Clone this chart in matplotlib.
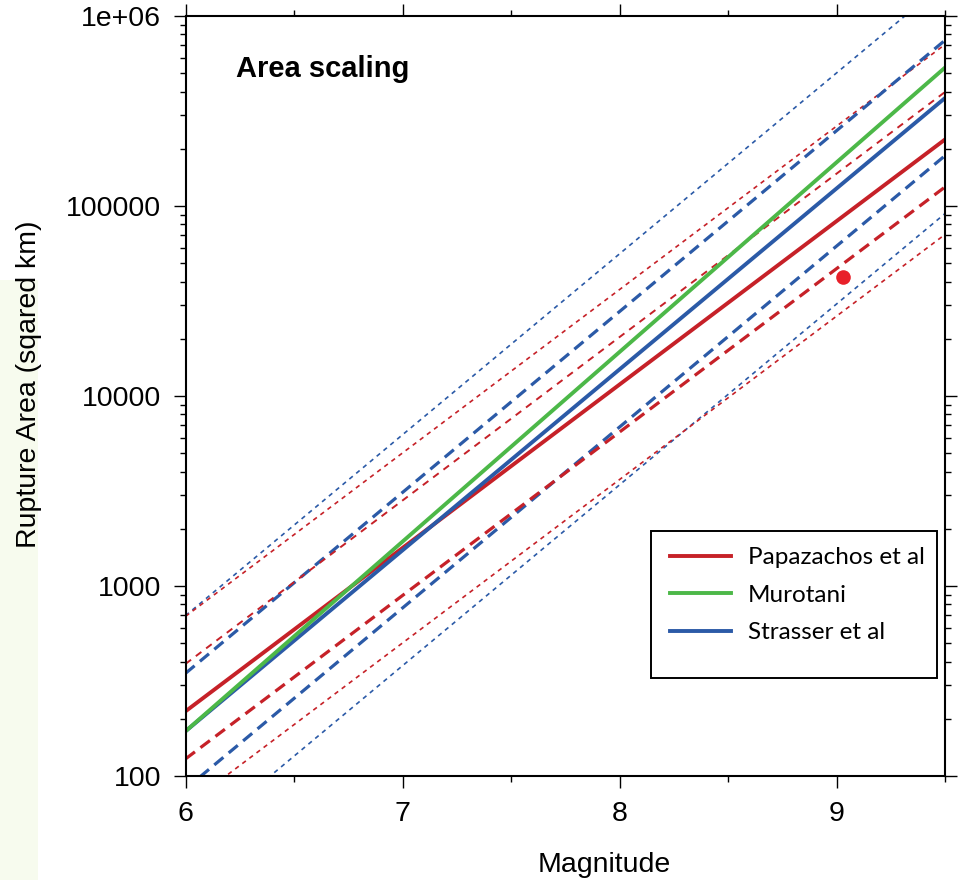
import matplotlib
matplotlib.use("Agg")
import matplotlib.pyplot as plt
from matplotlib.patches import Rectangle
from matplotlib.ticker import FixedLocator, FixedFormatter, NullFormatter

plt.rcParams["lines.scale_dashes"] = False

# Magnitude range covered by each scaling line
mag_ends = [6.0, 9.5]

# Rupture area (km^2) at M6 and M9.5 for each relation and its scatter bands
papazachos_mid = [219, 223900]
papazachos_hi1 = [389, 398100]
papazachos_lo1 = [123, 125900]
papazachos_hi2 = [692, 707900]
papazachos_lo2 = [69.2, 70800]

murotani_mid = [172, 535000]

strasser_mid = [172, 370000]
strasser_hi1 = [347, 745000]
strasser_lo1 = [85.5, 184000]
strasser_hi2 = [698, 1500000]
strasser_lo2 = [42.5, 91200]

# observed event
event_mag = [9.03]
event_area = [42200]

legend_labels = ["Papazachos et al", "Murotani", "Strasser et al"]
ytick_vals = [100, 1000, 10000, 100000, 1000000]
ytick_text = ["100", "1000", "10000", "100000", "1e+06"]
xtick_vals = [6, 7, 8, 9]

red = "#c62128"
green = "#4cb848"
blue = "#2b5aa7"

fig = plt.figure(figsize=(9.59, 8.80), dpi=100)
# faint backdrop strip at the left edge
fig.patches.append(Rectangle((0, 0), 38 / 959, 600 / 880, transform=fig.transFigure,
                             facecolor="#f7fbee", edgecolor="none", zorder=-5))
ax = fig.add_axes([185.5 / 959, 104 / 880, 759.5 / 959, 760 / 880])
ax.set_facecolor("white")

thick_dash = (0, (8.5, 5.0))
thin_dash = (0, (5.0, 4.3))
dot_dash = (0, (3.2, 3.2))

# scatter bands
ax.plot(mag_ends, strasser_hi2, color=blue, lw=1.2, ls=dot_dash)
ax.plot(mag_ends, strasser_lo2, color=blue, lw=1.2, ls=dot_dash)
ax.plot(mag_ends, papazachos_hi2, color=red, lw=1.2, ls=dot_dash)
ax.plot(mag_ends, papazachos_lo2, color=red, lw=1.2, ls=dot_dash)
ax.plot(mag_ends, strasser_hi1, color=blue, lw=2.3, ls=thick_dash)
ax.plot(mag_ends, strasser_lo1, color=blue, lw=2.3, ls=thick_dash)
ax.plot(mag_ends, papazachos_hi1, color=red, lw=1.4, ls=thin_dash)
ax.plot(mag_ends, papazachos_lo1, color=red, lw=2.3, ls=thick_dash)

# central relations
h_red, = ax.plot(mag_ends, papazachos_mid, color=red, lw=2.8)
h_blue, = ax.plot(mag_ends, strasser_mid, color=blue, lw=2.8)
h_green, = ax.plot(mag_ends, murotani_mid, color=green, lw=2.8)

ax.plot(event_mag, event_area, "o", color="#e8202a", ms=10.5, mec="none")

ax.set_yscale("log")
ax.set_xlim(6, 9.5)
ax.set_ylim(100, 1e6)

ax.yaxis.set_major_locator(FixedLocator(ytick_vals))
ax.yaxis.set_major_formatter(FixedFormatter(ytick_text))
ax.yaxis.set_minor_locator(FixedLocator(
    [m * 10 ** e for e in range(2, 6) for m in range(2, 10)]))
ax.yaxis.set_minor_formatter(NullFormatter())
ax.set_xticks(xtick_vals)
ax.set_xticks([6.5, 7.5, 8.5, 9.5], minor=True)

for side in ax.spines.values():
    side.set_linewidth(1.5)

ax.tick_params(which="both", direction="out", top=True, right=True, width=1.0,
               labelsize=20.5)
ax.tick_params(which="major", length=8.6)
ax.tick_params(which="minor", length=4.3)
ax.tick_params(axis="x", which="major", pad=9.5)
ax.tick_params(axis="y", which="major", pad=9)
for lab in ax.get_xticklabels() + ax.get_yticklabels():
    lab.set_fontfamily("Liberation Sans")

ax.set_xlabel("Magnitude", fontsize=20.5, family="Liberation Sans")
ax.xaxis.set_label_coords(0.552, -0.1)
ax.set_ylabel("Rupture Area (sqared km)", fontsize=20.5, family="Liberation Sans")
ax.yaxis.set_label_coords(-0.189, 0.515)

ax.text(0.066, 0.9197, "Area scaling", transform=ax.transAxes, fontsize=21,
        fontweight="bold", family="Liberation Sans", va="baseline")

leg = ax.legend([h_red, h_green, h_blue], legend_labels, frameon=False,
                loc="upper left", bbox_to_anchor=(0.638, 0.301),
                borderpad=0, borderaxespad=0, handlelength=2.5,
                handletextpad=0.7, labelspacing=0.68,
                prop={"family": "Lato", "size": 17.5})
ax.add_patch(Rectangle((0.613, 0.129), 0.3765, 0.193, transform=ax.transAxes,
                       fill=False, edgecolor="black", lw=1.4, zorder=5))

fig.savefig("out.png", dpi=100)
